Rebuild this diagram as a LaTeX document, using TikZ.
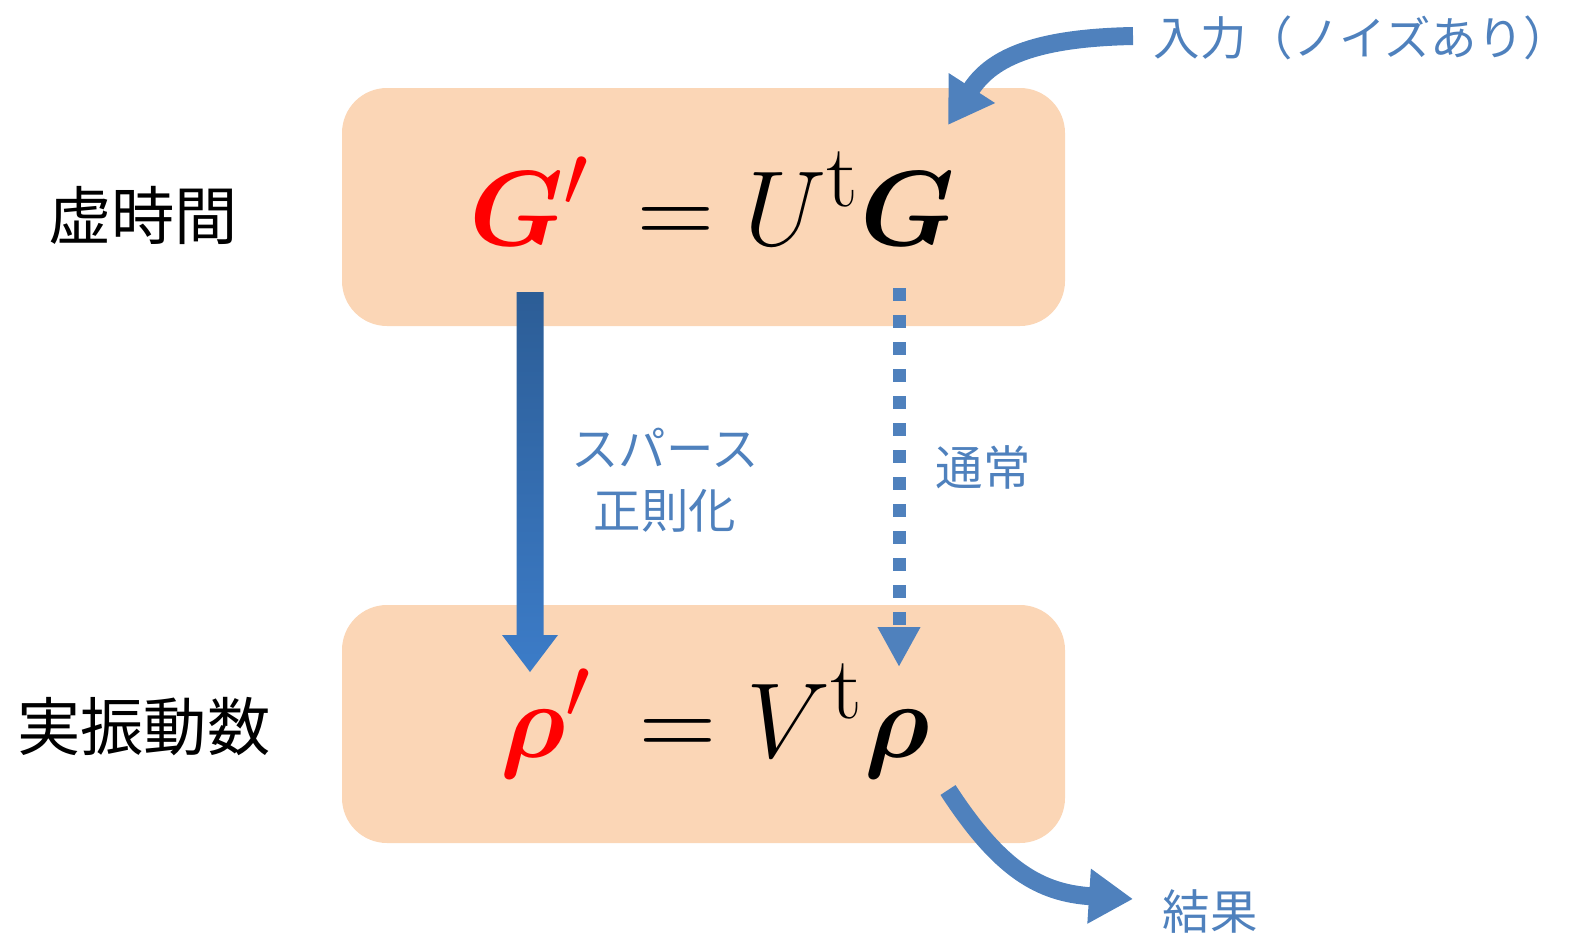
\documentclass[tikz,border=0pt]{standalone}
\usepackage{fontspec}
\usepackage{amsmath,bm}
\newfontfamily\jp{Noto Sans CJK JP}
\usetikzlibrary{arrows.meta,calc}

\definecolor{boxfill}{RGB}{251,214,182}
\definecolor{arrowblue}{RGB}{79,129,189}
\definecolor{sparsetop}{RGB}{44,93,150}
\definecolor{sparsebot}{RGB}{60,124,200}

\tikzset{
    phasebox/.style={fill=boxfill, rounded corners=0.45cm, minimum width=7.23cm, minimum height=2.38cm, inner sep=0pt},
    eqn/.style={anchor=base, inner sep=0pt, scale=1.22, transform shape, font=\fontsize{24.88}{30}\selectfont},
    sidelabel/.style={font=\jp\fontsize{18}{22}\selectfont},
    bluelabel/.style={text=arrowblue, align=center, font=\jp\fontsize{13.5}{17}\selectfont},
    bendarrow/.style={draw=arrowblue, line width=0.18cm, -{Triangle[width=0.52cm,length=0.44cm]}},
}

\begin{document}
\begin{tikzpicture}
    \useasboundingbox (0,0) rectangle (15.73,9.40);
    % boxes
    \node[phasebox] (imagbox) at (7.035,7.33) {};
    \node[phasebox] (realbox) at (7.035,2.16) {};
    \node[eqn] (imageq) at (7.12,6.95) {${\color{red}\bm{G}'}\,= U^{\mathrm{t}}\bm{G}$};
    \node[eqn] (realeq) at (7.15,1.83) {${\color{red}\bm{\rho}'}\,= V^{\mathrm{t}}\bm{\rho}$};
    \node[sidelabel] (imaglabel) at (1.43,7.25) {虚時間};
    \node[sidelabel] (reallabel) at (1.44,2.13) {実振動数};
    % labels
    \node[bluelabel, font=\jp\fontsize{13.2}{17}\selectfont] (inputlabel) at (13.62,9.02) {入力（ノイズあり）};
    \node[bluelabel, font=\jp\fontsize{13.5}{17.5}\selectfont] (sparselabel) at (6.65,4.60) {スパース\\正則化};
    \node[bluelabel] (normallabel) at (9.83,4.73) {通常};
    \node[bluelabel] (resultlabel) at (12.10,0.28) {結果};
    % sparse arrow
    \coordinate (sparsefrom) at (5.30,6.48);
    \coordinate (sparseto) at (5.30,2.68);
    \shade[top color=sparsetop, bottom color=sparsebot]
        ($(sparsefrom)+(-0.135,0)$) -- ($(sparsefrom)+(0.135,0)$) -- ($(sparseto)+(0.135,0.37)$)
        -- ($(sparseto)+(0.28,0.37)$) -- (sparseto) -- ($(sparseto)+(-0.28,0.37)$)
        -- ($(sparseto)+(-0.135,0.37)$) -- cycle;
    % normal arrow
    \coordinate (normalfrom) at (8.99,6.52);
    \coordinate (normalto) at (8.99,2.73);
    \draw[arrowblue, line width=0.13cm, dash pattern=on 0.13cm off 0.14cm,
        -{Triangle[width=0.40cm,length=0.40cm]}] (normalfrom) -- (normalto);
    % input and result
    \coordinate (inputfrom) at (11.33,9.04);
    \coordinate (inputto) at (9.48,8.15);
    \draw[bendarrow] (inputfrom) .. controls (10.30,9.02) and (9.90,8.80) .. (inputto);
    \coordinate (resultfrom) at (9.48,1.50);
    \coordinate (resultto) at (11.33,0.41);
    \draw[bendarrow] (resultfrom) .. controls (10.00,0.70) and (10.40,0.47) .. (resultto);
\end{tikzpicture}
\end{document}
